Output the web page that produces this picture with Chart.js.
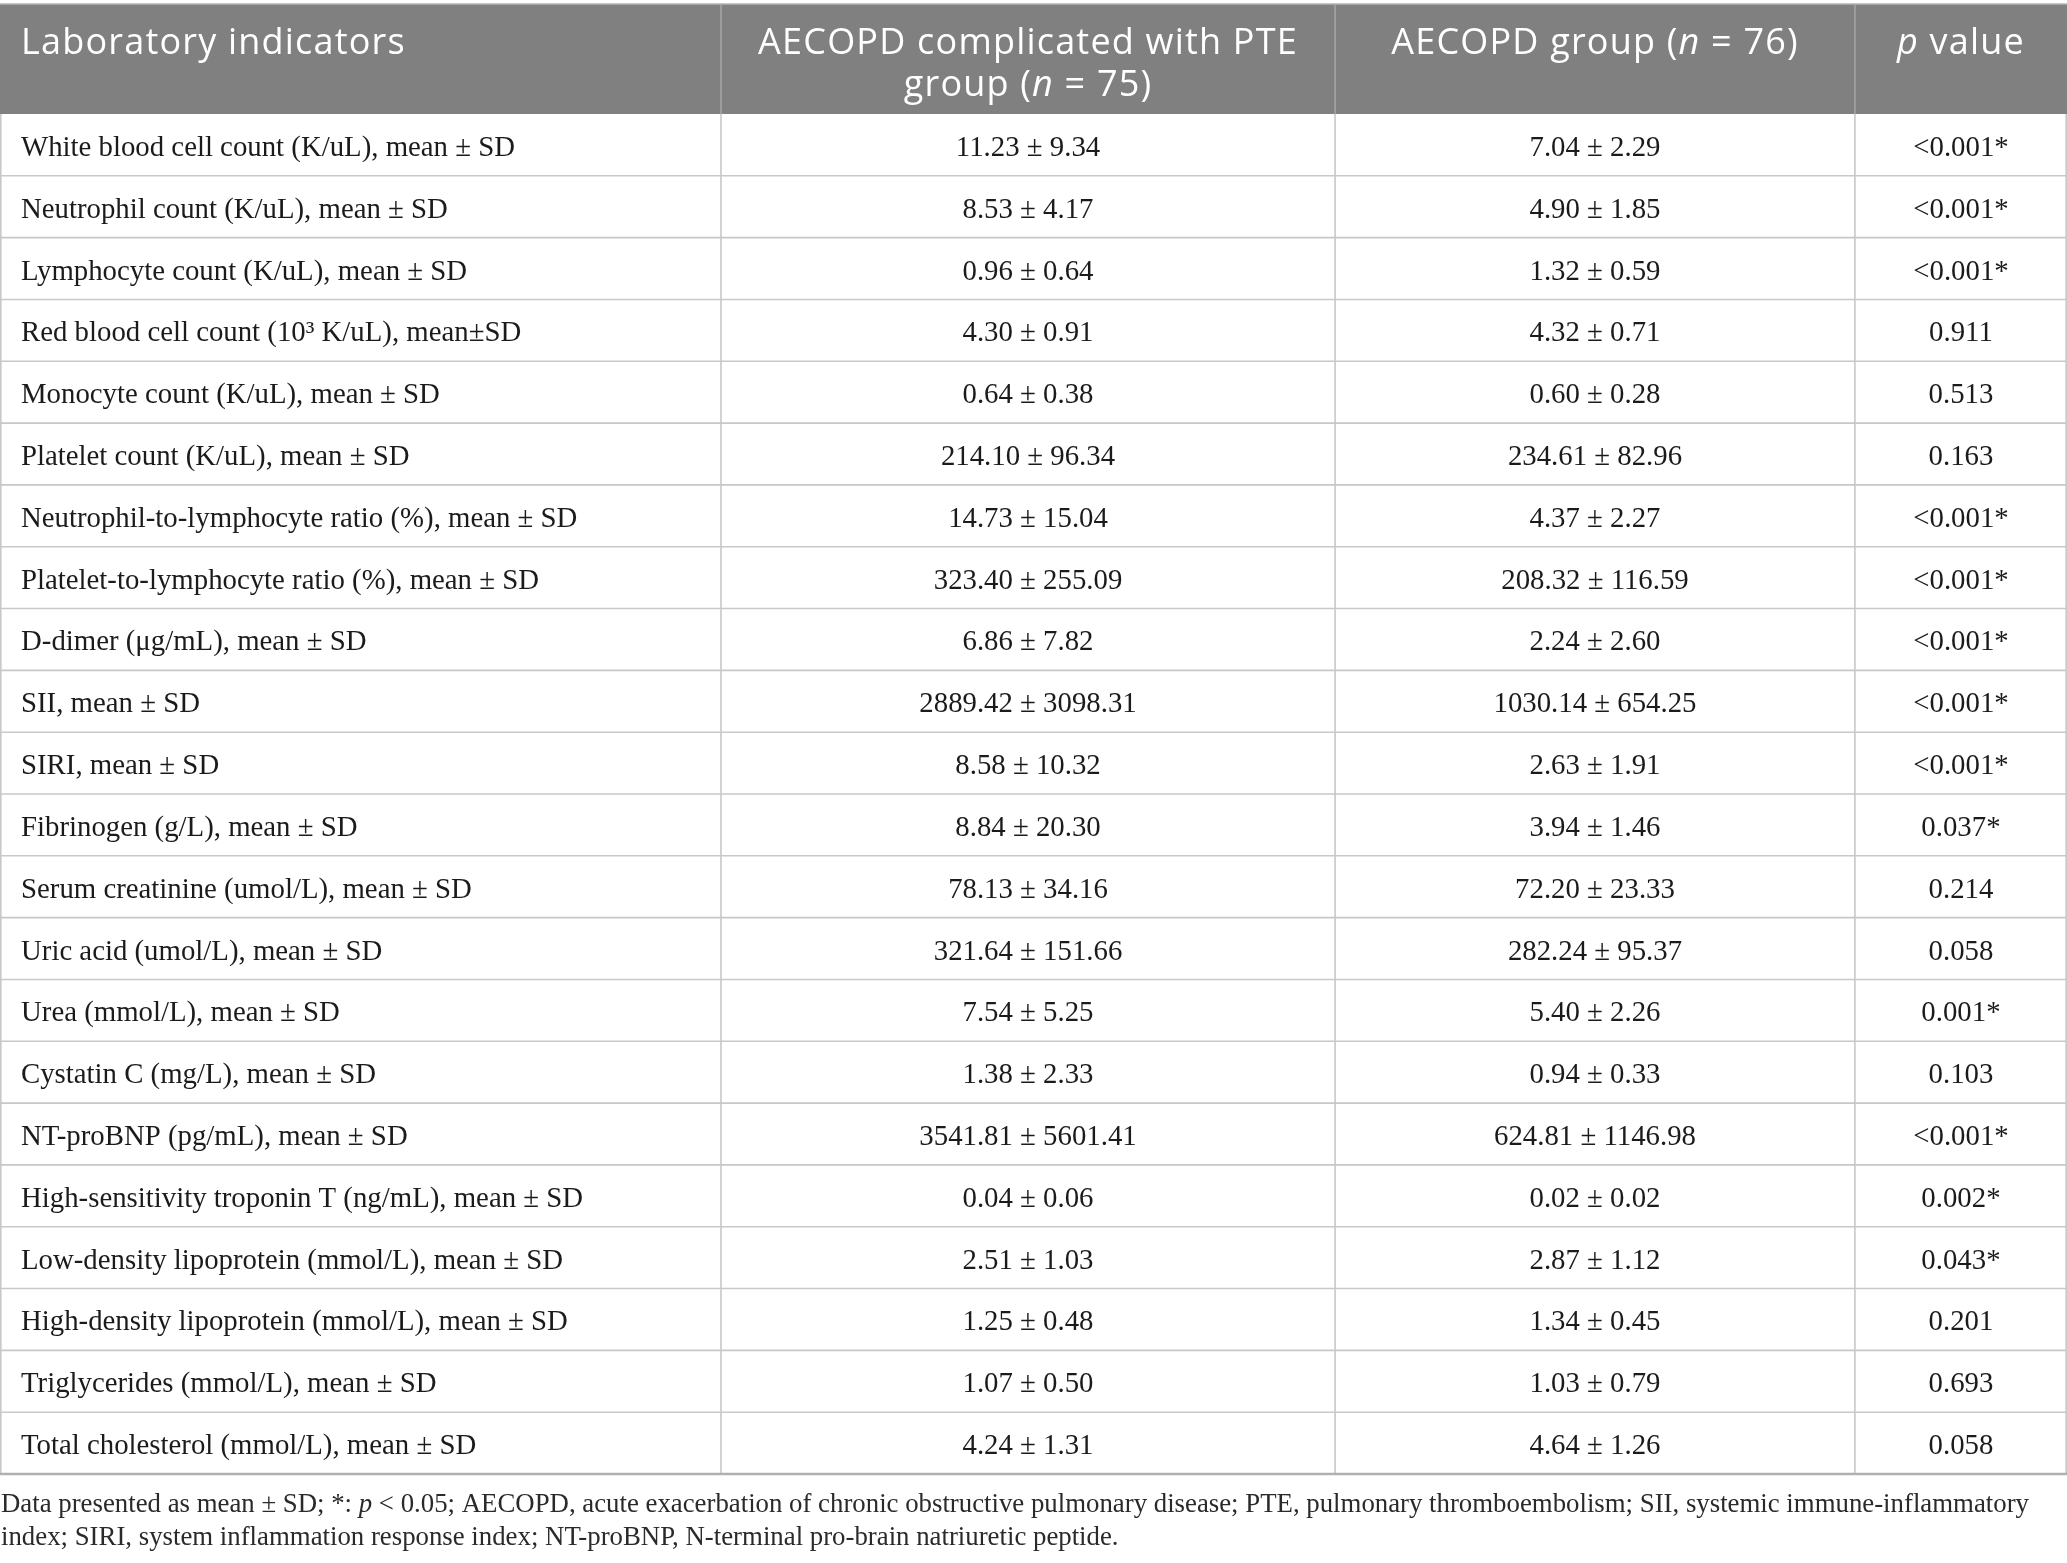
<!DOCTYPE html>
<html>
<head>
<meta charset="utf-8">
<script src="https://cdn.jsdelivr.net/npm/chart.js@4"></script>
<style>
  html, body { margin: 0; padding: 0; background: #fff; }
  #wrap { width: 2067px; height: 1563px; position: relative; }
</style>
</head>
<body>
<div id="wrap"><canvas id="table-chart"></canvas></div>
<script>
// table content
const indicators = [
  "White blood cell count (K/uL), mean ± SD",
  "Neutrophil count (K/uL), mean ± SD",
  "Lymphocyte count (K/uL), mean ± SD",
  "Red blood cell count (10³ K/uL), mean±SD",
  "Monocyte count (K/uL), mean ± SD",
  "Platelet count (K/uL), mean ± SD",
  "Neutrophil-to-lymphocyte ratio (%), mean ± SD",
  "Platelet-to-lymphocyte ratio (%), mean ± SD",
  "D-dimer (μg/mL), mean ± SD",
  "SII, mean ± SD",
  "SIRI, mean ± SD",
  "Fibrinogen (g/L), mean ± SD",
  "Serum creatinine (umol/L), mean ± SD",
  "Uric acid (umol/L), mean ± SD",
  "Urea (mmol/L), mean ± SD",
  "Cystatin C (mg/L), mean ± SD",
  "NT-proBNP (pg/mL), mean ± SD",
  "High-sensitivity troponin T (ng/mL), mean ± SD",
  "Low-density lipoprotein (mmol/L), mean ± SD",
  "High-density lipoprotein (mmol/L), mean ± SD",
  "Triglycerides (mmol/L), mean ± SD",
  "Total cholesterol (mmol/L), mean ± SD"
];
const pteMean = [11.23, 8.53, 0.96, 4.30, 0.64, 214.10, 14.73, 323.40, 6.86, 2889.42, 8.58,
  8.84, 78.13, 321.64, 7.54, 1.38, 3541.81, 0.04, 2.51, 1.25, 1.07, 4.24];
const pteSD = [9.34, 4.17, 0.64, 0.91, 0.38, 96.34, 15.04, 255.09, 7.82, 3098.31, 10.32,
  20.30, 34.16, 151.66, 5.25, 2.33, 5601.41, 0.06, 1.03, 0.48, 0.50, 1.31];
const copdMean = [7.04, 4.90, 1.32, 4.32, 0.60, 234.61, 4.37, 208.32, 2.24, 1030.14, 2.63,
  3.94, 72.20, 282.24, 5.40, 0.94, 624.81, 0.02, 2.87, 1.34, 1.03, 4.64];
const copdSD = [2.29, 1.85, 0.59, 0.71, 0.28, 82.96, 2.27, 116.59, 2.60, 654.25, 1.91,
  1.46, 23.33, 95.37, 2.26, 0.33, 1146.98, 0.02, 1.12, 0.45, 0.79, 1.26];
const pValues = ["<0.001*", "<0.001*", "<0.001*", "0.911", "0.513", "0.163", "<0.001*",
  "<0.001*", "<0.001*", "<0.001*", "<0.001*", "0.037*", "0.214", "0.058", "0.001*",
  "0.103", "<0.001*", "0.002*", "0.043*", "0.201", "0.693", "0.058"];

// header cells, each line is a list of [text, italic] runs
const headers = [
  [[["Laboratory indicators", false]]],
  [[["AECOPD complicated with PTE", false]], [["group (", false], ["n", true], [" = 75)", false]]],
  [[["AECOPD group (", false], ["n", true], [" = 76)", false]]],
  [[["p", true], [" value", false]]]
];
const footnote = [
  [["Data presented as mean ± SD; *: ", false], ["p", true], [" < 0.05; AECOPD, acute exacerbation of chronic obstructive pulmonary disease; PTE, pulmonary thromboembolism; SII, systemic immune-inflammatory", false]],
  [["index; SIRI, system inflammation response index; NT-proBNP, N-terminal pro-brain natriuretic peptide.", false]]
];
const columnEdges = [0, 0.3488, 0.6459, 0.8974, 1];

const HEAD_FONT = "'Open Sans'";
const BODY_FONT = "'Liberation Serif'";

function fmt(m, s) {
  return m.toFixed(2) + " ± " + s.toFixed(2);
}

function drawRuns(ctx, runs, x, y, align, size, family) {
  const fontFor = (it) => (it ? "italic " : "") + size + "px " + family;
  let total = 0;
  runs.forEach(([t, it]) => { ctx.font = fontFor(it); total += ctx.measureText(t).width; });
  let cx = align === "center" ? x - total / 2 : x;
  ctx.textAlign = "left";
  runs.forEach(([t, it]) => {
    ctx.font = fontFor(it);
    ctx.fillText(t, cx, y);
    cx += ctx.measureText(t).width;
  });
}

const tablePlugin = {
  id: "tablePlugin",
  afterDraw(chart) {
    const { ctx, chartArea: area, scales } = chart;
    const x = scales.x, y = scales.y;
    const n = indicators.length;
    const rowH = (area.bottom - area.top) / n;
    const edges = columnEdges.map(v => x.getPixelForValue(v));
    const headTop = 4;

    ctx.save();
    ctx.textBaseline = "alphabetic";

    // header band
    ctx.fillStyle = "#7f807f";
    ctx.fillRect(edges[0], headTop, edges[4] - edges[0], area.top - headTop);
    ctx.strokeStyle = "#b4b4b4";
    ctx.lineWidth = 1.5;
    ctx.beginPath();
    ctx.moveTo(edges[0], headTop); ctx.lineTo(edges[4], headTop);
    ctx.stroke();
    ctx.strokeStyle = "#a6a6a6";
    ctx.beginPath();
    edges.slice(1, -1).forEach(e => { ctx.moveTo(e, headTop); ctx.lineTo(e, area.top); });
    ctx.stroke();

    ctx.fillStyle = "#ffffff";
    ctx.letterSpacing = "1.2px";
    headers.forEach((lines, c) => {
      const left = c === 0;
      const cxPos = left ? edges[0] + 21 : (edges[c] + edges[c + 1]) / 2;
      lines.forEach((runs, li) => {
        drawRuns(ctx, runs, cxPos, 54 + li * 42, left ? "left" : "center", 36, HEAD_FONT);
      });
    });
    ctx.letterSpacing = "0px";

    // body grid
    ctx.strokeStyle = "#c8c8c8";
    ctx.lineWidth = 1.6;
    ctx.beginPath();
    for (let i = 1; i < n; i++) {
      const yy = y.getPixelForValue(i) - rowH / 2;
      ctx.moveTo(edges[0], yy); ctx.lineTo(edges[4], yy);
    }
    edges.forEach((e, k) => {
      const ex = k === 0 ? e + 0.8 : (k === edges.length - 1 ? e - 0.8 : e);
      ctx.moveTo(ex, area.top); ctx.lineTo(ex, area.bottom);
    });
    ctx.stroke();
    ctx.strokeStyle = "#b0b0b0";
    ctx.lineWidth = 2.6;
    ctx.beginPath();
    ctx.moveTo(edges[0], area.bottom); ctx.lineTo(edges[4], area.bottom);
    ctx.stroke();

    // body text
    ctx.fillStyle = "#1b1b1b";
    const bodySize = 28.8;
    indicators.forEach((label, i) => {
      const base = y.getPixelForValue(i) + 11;
      const cells = [label, fmt(pteMean[i], pteSD[i]), fmt(copdMean[i], copdSD[i]), pValues[i]];
      cells.forEach((t, c) => {
        if (c === 0) drawRuns(ctx, [[t, false]], edges[0] + 21, base, "left", bodySize, BODY_FONT);
        else drawRuns(ctx, [[t, false]], (edges[c] + edges[c + 1]) / 2, base, "center", bodySize, BODY_FONT);
      });
    });

    // footnote
    ctx.fillStyle = "#2a2a2a";
    footnote.forEach((runs, li) => {
      drawRuns(ctx, runs, edges[0] + 1, area.bottom + 38 + li * 33, "left", 26.8, BODY_FONT);
    });
    ctx.restore();
  }
};

const ctx = document.querySelector("#table-chart");
const tableChart = new Chart(ctx, {
  type: "bar",
  data: { labels: indicators, datasets: [] },
  options: {
    indexAxis: "y",
    responsive: true,
    maintainAspectRatio: false,
    animation: false,
    devicePixelRatio: 1,
    layout: { padding: { top: 114, bottom: 89, left: 0, right: 0 } },
    plugins: { legend: { display: false }, tooltip: { enabled: false } },
    scales: {
      x: { type: "linear", min: 0, max: 1, display: false, offset: false },
      y: { type: "category", display: false, offset: true }
    }
  },
  plugins: [tablePlugin]
});
</script>
</body>
</html>
